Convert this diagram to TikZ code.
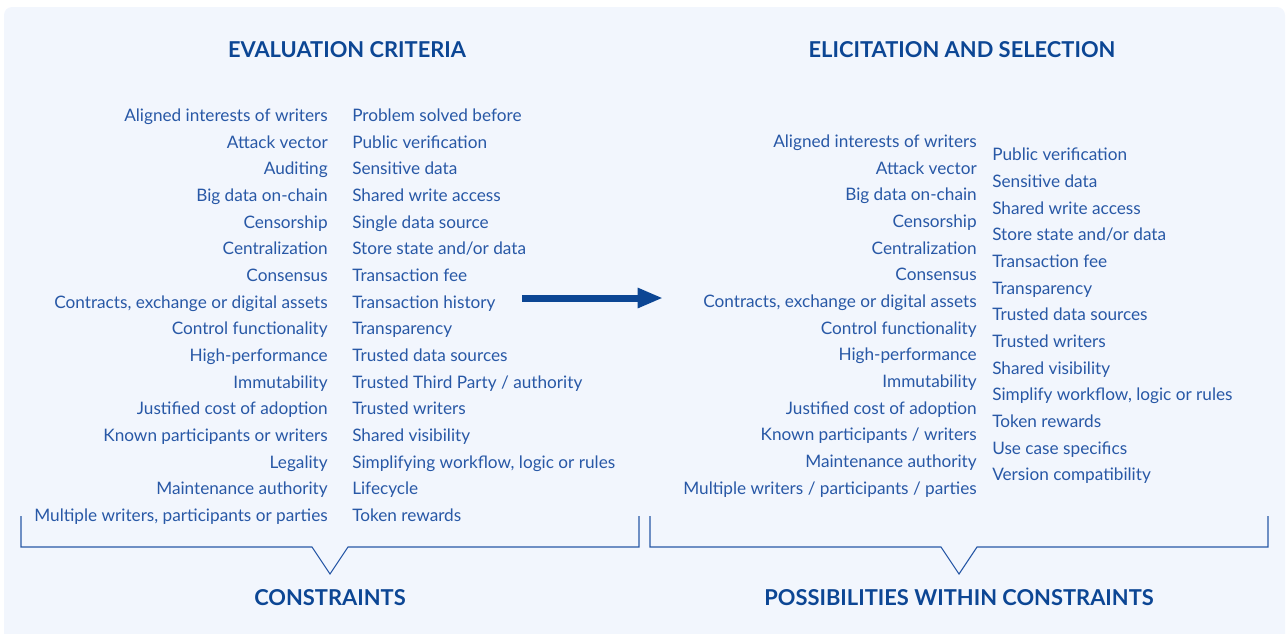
\documentclass[tikz,border=0pt]{standalone}
\usepackage{fontspec}
\setmainfont{Lato}
\usepackage{tikz}
\usetikzlibrary{arrows.meta,positioning}

\definecolor{panelbg}{RGB}{242,246,253}
\definecolor{itemblue}{RGB}{40,88,166}
\definecolor{headblue}{RGB}{12,70,148}

\tikzset{
    crit/.style={text=itemblue, font=\fontsize{12.9}{14}\selectfont, inner sep=0pt, anchor=mid east},
    opt/.style={text=itemblue, font=\fontsize{12.9}{14}\selectfont, inner sep=0pt, anchor=mid west},
    head/.style={text=headblue, font=\fontsize{16.4}{18}\selectfont\bfseries, inner sep=0pt},
    brace/.style={draw=itemblue, line width=0.8pt, line join=miter},
    flow/.style={draw=headblue, line width=5.25pt, -{Triangle[length=19pt,width=14pt]}}
}

\begin{document}
\begin{tikzpicture}[x=0.75pt, y=-0.75pt, node distance=20pt]
    \useasboundingbox (0,0) rectangle (1287,633);
    \fill[panelbg, rounded corners=6pt] (4,7) rectangle (1285,660);

    % headings
    \node[head] (h1) at (347,50) {EVALUATION CRITERIA};
    \node[head] (h2) at (962,50) {ELICITATION AND SELECTION};
    \node[head] (h3) at (330,598) {CONSTRAINTS};
    \node[head] (h4) at (959,598) {POSSIBILITIES WITHIN CONSTRAINTS};

    % evaluation criteria, first column
    \node[crit] (a1) at (328,118) {Aligned interests of writers};
    \node[below=of a1.mid east, crit] (a2) {Attack vector};
    \node[below=of a2.mid east, crit] (a3) {Auditing};
    \node[below=of a3.mid east, crit] (a4) {Big data on-chain};
    \node[below=of a4.mid east, crit] (a5) {Censorship};
    \node[below=of a5.mid east, crit] (a6) {Centralization};
    \node[below=of a6.mid east, crit] (a7) {Consensus};
    \node[below=of a7.mid east, crit] (a8) {Contracts, exchange or digital assets};
    \node[below=of a8.mid east, crit] (a9) {Control functionality};
    \node[below=of a9.mid east, crit] (a10) {High-performance};
    \node[below=of a10.mid east, crit] (a11) {Immutability};
    \node[below=of a11.mid east, crit] (a12) {Justified cost of adoption};
    \node[below=of a12.mid east, crit] (a13) {Known participants or writers};
    \node[below=of a13.mid east, crit] (a14) {Legality};
    \node[below=of a14.mid east, crit] (a15) {Maintenance authority};
    \node[below=of a15.mid east, crit] (a16) {Multiple writers, participants or parties};

    % evaluation criteria, second column
    \node[opt] (b1) at (352,118) {Problem solved before};
    \node[below=of b1.mid west, opt] (b2) {Public verification};
    \node[below=of b2.mid west, opt] (b3) {Sensitive data};
    \node[below=of b3.mid west, opt] (b4) {Shared write access};
    \node[below=of b4.mid west, opt] (b5) {Single data source};
    \node[below=of b5.mid west, opt] (b6) {Store state and/or data};
    \node[below=of b6.mid west, opt] (b7) {Transaction fee};
    \node[below=of b7.mid west, opt] (b8) {Transaction history};
    \node[below=of b8.mid west, opt] (b9) {Transparency};
    \node[below=of b9.mid west, opt] (b10) {Trusted data sources};
    \node[below=of b10.mid west, opt] (b11) {Trusted Third Party / authority};
    \node[below=of b11.mid west, opt] (b12) {Trusted writers};
    \node[below=of b12.mid west, opt] (b13) {Shared visibility};
    \node[below=of b13.mid west, opt] (b14) {Simplifying workflow, logic or rules};
    \node[below=of b14.mid west, opt] (b15) {Lifecycle};
    \node[below=of b15.mid west, opt] (b16) {Token rewards};

    % elicitation and selection, first column
    \node[crit] (c1) at (977,144) {Aligned interests of writers};
    \node[below=of c1.mid east, crit] (c2) {Attack vector};
    \node[below=of c2.mid east, crit] (c3) {Big data on-chain};
    \node[below=of c3.mid east, crit] (c4) {Censorship};
    \node[below=of c4.mid east, crit] (c5) {Centralization};
    \node[below=of c5.mid east, crit] (c6) {Consensus};
    \node[below=of c6.mid east, crit] (c7) {Contracts, exchange or digital assets};
    \node[below=of c7.mid east, crit] (c8) {Control functionality};
    \node[below=of c8.mid east, crit] (c9) {High-performance};
    \node[below=of c9.mid east, crit] (c10) {Immutability};
    \node[below=of c10.mid east, crit] (c11) {Justified cost of adoption};
    \node[below=of c11.mid east, crit] (c12) {Known participants / writers};
    \node[below=of c12.mid east, crit] (c13) {Maintenance authority};
    \node[below=of c13.mid east, crit] (c14) {Multiple writers / participants / parties};

    % elicitation and selection, second column
    \node[opt] (d1) at (992,157.5) {Public verification};
    \node[below=of d1.mid west, opt] (d2) {Sensitive data};
    \node[below=of d2.mid west, opt] (d3) {Shared write access};
    \node[below=of d3.mid west, opt] (d4) {Store state and/or data};
    \node[below=of d4.mid west, opt] (d5) {Transaction fee};
    \node[below=of d5.mid west, opt] (d6) {Transparency};
    \node[below=of d6.mid west, opt] (d7) {Trusted data sources};
    \node[below=of d7.mid west, opt] (d8) {Trusted writers};
    \node[below=of d8.mid west, opt] (d9) {Shared visibility};
    \node[below=of d9.mid west, opt] (d10) {Simplify workflow, logic or rules};
    \node[below=of d10.mid west, opt] (d11) {Token rewards};
    \node[below=of d11.mid west, opt] (d12) {Use case specifics};
    \node[below=of d12.mid west, opt] (d13) {Version compatibility};

    % arrow between the two halves
    \coordinate (go) at (522,298);
    \coordinate (stop) at (663,298);
    \draw[flow] (go) -- (stop);

    % brackets
    \draw[brace] (21,516) -- (21,547) -- (312,547) -- (330,574) -- (348,547) -- (639,547) -- (639,516);
    \draw[brace] (650,516) -- (650,547) -- (941,547) -- (959,574) -- (977,547) -- (1268,547) -- (1268,516);
\end{tikzpicture}
\end{document}
